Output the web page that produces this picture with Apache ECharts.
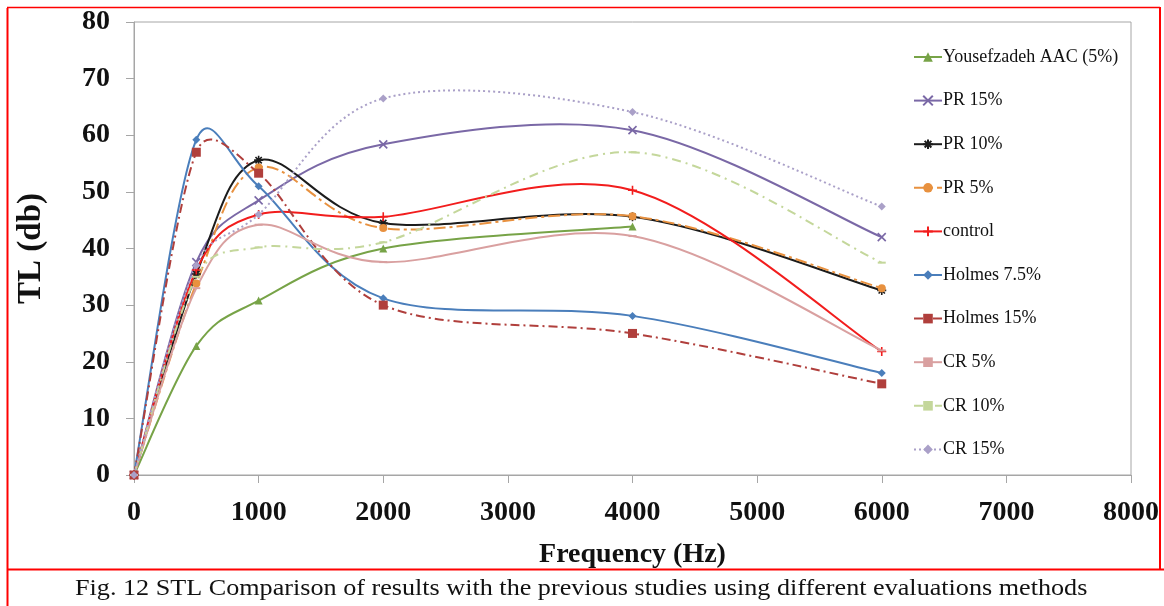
<!DOCTYPE html>
<html>
<head>
<meta charset="utf-8">
<script src="https://cdn.jsdelivr.net/npm/echarts@6/dist/echarts.min.js"></script>
<style>
html,body{margin:0;padding:0;background:#fff;}
#chart{width:1164px;height:606px;}
</style>
</head>
<body>
<div id="chart"></div>
<script>
// ---- data ----
var freqs = [0, 500, 1000, 2000, 4000, 6000];
var seriesNames = ['Yousefzadeh AAC (5%)', 'PR 15%', 'PR 10%', 'PR 5%', 'control', 'Holmes 7.5%', 'Holmes 15%', 'CR 5%', 'CR 10%', 'CR 15%'];
var yousefzadeh = [0, 22.8, 30.8, 40.0, 43.9];
var pr15 = [0, 37.6, 48.5, 58.4, 60.9, 42.0];
var pr10 = [0, 35.5, 55.6, 44.5, 45.6, 32.6];
var pr5 = [0, 33.8, 54.3, 43.6, 45.7, 33.0];
var control = [0, 36.2, 46.0, 45.6, 50.3, 21.8];
var holmes75 = [0, 59.2, 51.0, 31.2, 28.1, 18.0];
var holmes15 = [0, 57.0, 53.3, 30.0, 25.0, 16.1];
var cr5 = [0, 33.0, 44.2, 37.6, 42.2, 22.0];
var cr10 = [0, 35.0, 40.2, 41.1, 57.0, 37.5];
var cr15 = [0, 37.0, 46.0, 66.5, 64.1, 47.4];
var xTicks = [0, 1000, 2000, 3000, 4000, 5000, 6000, 7000, 8000];
var yTicks = [0, 10, 20, 30, 40, 50, 60, 70, 80];
var caption = 'Fig. 12 STL Comparison of results with the previous studies using different evaluations methods';

function pairs(vals) {
  return vals.map(function (v, i) { return [freqs[i], v]; });
}

var FONT = 'Liberation Serif';
var crossPath = 'path://M0,0L10,10M0,10L10,0';
var plusPath = 'path://M5,0L5,10M0,5L10,5';
var starPath = 'path://M5,0L5,10M0,5L10,5M1.5,1.5L8.5,8.5M1.5,8.5L8.5,1.5';

var styles = [
  {data: yousefzadeh, color: '#77a347', type: 'solid', symbol: 'triangle', size: 8},
  {data: pr15, color: '#7a68a6', type: 'solid', symbol: crossPath, size: 8, stroke: true},
  {data: pr10, color: '#1c1c1c', type: 'solid', symbol: starPath, size: 9, stroke: true},
  {data: pr5, color: '#e8913f', type: [12, 4, 3, 4], symbol: 'circle', size: 8},
  {data: control, color: '#f21d1d', type: 'solid', symbol: plusPath, size: 9, stroke: true},
  {data: holmes75, color: '#4a7ebb', type: 'solid', symbol: 'diamond', size: 8},
  {data: holmes15, color: '#b03f3c', type: [9, 4, 2, 4], symbol: 'rect', size: 9},
  {data: cr5, color: '#d9a0a0', type: 'solid', symbol: 'rect', size: [8, 2]},
  {data: cr10, color: '#c4d79b', type: [9, 5, 2, 5], symbol: 'rect', size: [8, 2]},
  {data: cr15, color: '#aaa0c8', type: [2, 3], symbol: 'diamond', size: 8}
];

// Excel-like smoothed curve (Bezier with 1/6 tangents) in pixel space,
// every point placed by the library's own scales (api.coord).
function ctrl(base, tx, ty, sign, segLen) {
  var len = Math.sqrt(tx * tx + ty * ty);
  var k = (len > segLen / 2 && len > 0) ? (segLen / 2) / len : 1;
  return [base[0] + sign * tx * k, base[1] + sign * ty * k];
}
function makeRenderer(vals, s) {
  var pts = pairs(vals);
  return function (params, api) {
    var p = pts.map(function (d) { return api.coord(d); });
    var d = 'M' + p[0][0] + ',' + p[0][1];
    for (var i = 0; i < p.length - 1; i++) {
      var p0 = p[i - 1] || p[i], p1 = p[i], p2 = p[i + 1], p3 = p[i + 2] || p[i + 1];
      var seg = Math.sqrt(Math.pow(p2[0] - p1[0], 2) + Math.pow(p2[1] - p1[1], 2));
      var c1 = ctrl(p1, (p2[0] - p0[0]) / 6, (p2[1] - p0[1]) / 6, 1, seg);
      var c2 = ctrl(p2, (p3[0] - p1[0]) / 6, (p3[1] - p1[1]) / 6, -1, seg);
      d += 'C' + c1[0] + ',' + c1[1] + ',' + c2[0] + ',' + c2[1] + ',' + p2[0] + ',' + p2[1];
    }
    return {
      type: 'path',
      shape: {pathData: d},
      style: {stroke: s.color, lineWidth: 2, fill: null, lineDash: s.type === 'solid' ? null : s.type},
      silent: true
    };
  };
}

var series = [];
styles.forEach(function (s, i) {
  series.push({
    type: 'custom',
    name: '_curve' + i,
    renderItem: makeRenderer(s.data, s),
    data: [[0, 0]],
    clip: true,
    silent: true,
    z: 2
  });
});
styles.forEach(function (s, i) {
  series.push({
    name: seriesNames[i],
    type: 'line',
    data: pairs(s.data),
    symbol: s.symbol,
    symbolSize: s.size,
    showAllSymbol: true,
    lineStyle: {color: s.color, width: 2, type: s.type, opacity: 0},
    itemStyle: s.stroke ? {color: s.color, borderColor: s.color, borderWidth: 1.6} : {color: s.color, borderWidth: 0},
    z: 3
  });
});

var legendData = styles.map(function (s, i) {
  return {name: seriesNames[i], lineStyle: {color: s.color, width: 2, type: s.type, opacity: 1}};
});

var chart = echarts.init(document.getElementById('chart'), null, {renderer: 'canvas'});
chart.setOption({
  backgroundColor: '#fff',
  animation: false,
  grid: {left: 134, right: 33, top: 22, bottom: 131, show: true, borderColor: '#a6a6a6', borderWidth: 1},
  xAxis: {
    type: 'value', min: xTicks[0], max: xTicks[xTicks.length - 1], interval: 1000,
    name: 'Frequency (Hz)', nameLocation: 'middle', nameGap: 66,
    nameTextStyle: {fontFamily: FONT, fontWeight: 'bold', fontSize: 28, color: '#111'},
    axisLine: {lineStyle: {color: '#a6a6a6', width: 1}},
    axisTick: {show: true, length: 8, inside: false, lineStyle: {color: '#a6a6a6'}},
    axisLabel: {fontFamily: FONT, fontWeight: 'bold', fontSize: 28, color: '#111', margin: 24,
      formatter: function (v) { return String(v); }},
    splitLine: {show: false}
  },
  yAxis: {
    type: 'value', min: yTicks[0], max: yTicks[yTicks.length - 1], interval: 10,
    name: 'TL (db)', nameLocation: 'middle', nameGap: 86,
    nameTextStyle: {fontFamily: FONT, fontWeight: 'bold', fontSize: 33, color: '#111'},
    axisLine: {show: true, lineStyle: {color: '#a6a6a6', width: 1}},
    axisTick: {show: true, length: 8, lineStyle: {color: '#a6a6a6'}},
    axisLabel: {fontFamily: FONT, fontWeight: 'bold', fontSize: 28, color: '#111', margin: 24},
    splitLine: {show: false}
  },
  legend: {
    orient: 'vertical', left: 908, top: 43,
    itemWidth: 28, itemHeight: 12, itemGap: 25.6,
    textStyle: {fontFamily: FONT, fontSize: 18, color: '#111', padding: [0, 0, 0, -4]},
    data: legendData
  },
  graphic: [
    {type: 'line', shape: {x1: 7.5, y1: 8, x2: 7.5, y2: 606}, style: {stroke: '#ff0000', lineWidth: 2}, silent: true},
    {type: 'line', shape: {x1: 7, y1: 7.5, x2: 1160, y2: 7.5}, style: {stroke: '#ff0000', lineWidth: 1.5}, silent: true},
    {type: 'line', shape: {x1: 1160, y1: 7, x2: 1160, y2: 570}, style: {stroke: '#ff0000', lineWidth: 2}, silent: true},
    {type: 'line', shape: {x1: 7, y1: 569.5, x2: 1164, y2: 569.5}, style: {stroke: '#ff0000', lineWidth: 2}, silent: true},
    {type: 'text', x: 75, y: 577, scaleX: 1.09, style: {text: caption, fontFamily: FONT, fontSize: 24, fill: '#111'}, silent: true}
  ],
  series: series
});
</script>
</body>
</html>
